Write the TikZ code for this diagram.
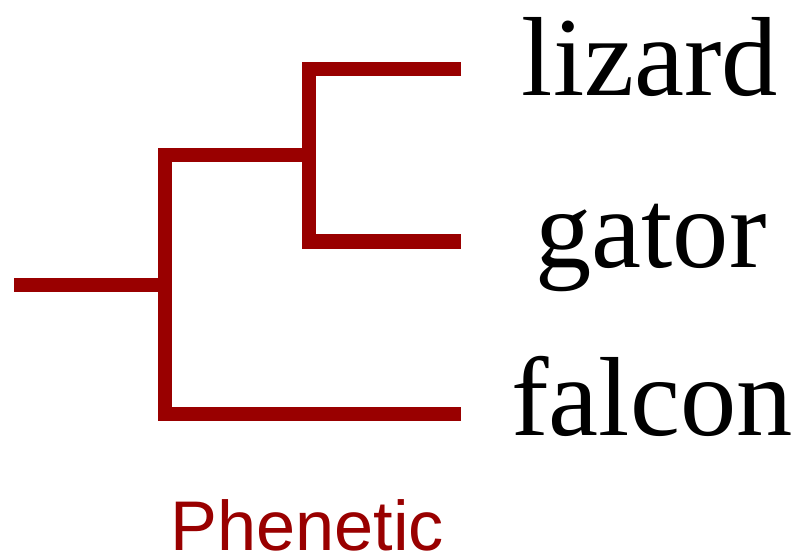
\documentclass[tikz,border=0pt]{standalone}
\usepackage{fontspec}
\setmainfont{Liberation Serif}
\setsansfont{Liberation Sans}
\definecolor{treered}{RGB}{153,0,0}
\begin{document}
\begin{tikzpicture}[
        x=0.025cm, y=-0.025cm,
        branch/.style={draw=treered, line width=10.1pt, line join=miter, line cap=butt},
        taxon/.style={anchor=base, inner sep=0pt, font=\fontsize{80}{80}\selectfont},
        caption/.style={anchor=base, inner sep=0pt, text depth=0pt, text=treered, font=\sffamily\fontsize{50}{50}\selectfont}
    ]
    \useasboundingbox (0,0) rectangle (799,558);
    \coordinate (root) at (14,285);
    \coordinate (n1) at (165,285);
    \coordinate (n2) at (309,155);
    \coordinate (tL) at (461,69);
    \coordinate (tG) at (461,241.5);
    \coordinate (tF) at (461,414);

    \node[taxon] (lizard) at (650,95) {lizard};
    \node[taxon] (gator) at (651,267) {gator};
    \node[taxon] (falcon) at (652,435) {falcon};
    \node[caption] (phen) at (307,550) {Phenetic};

    \draw[branch] (root) -- (n1);
    \draw[branch] (n2) -| (n1) |- (tF);
    \draw[branch] (tL) -| (n2) |- (tG);
\end{tikzpicture}
\end{document}
